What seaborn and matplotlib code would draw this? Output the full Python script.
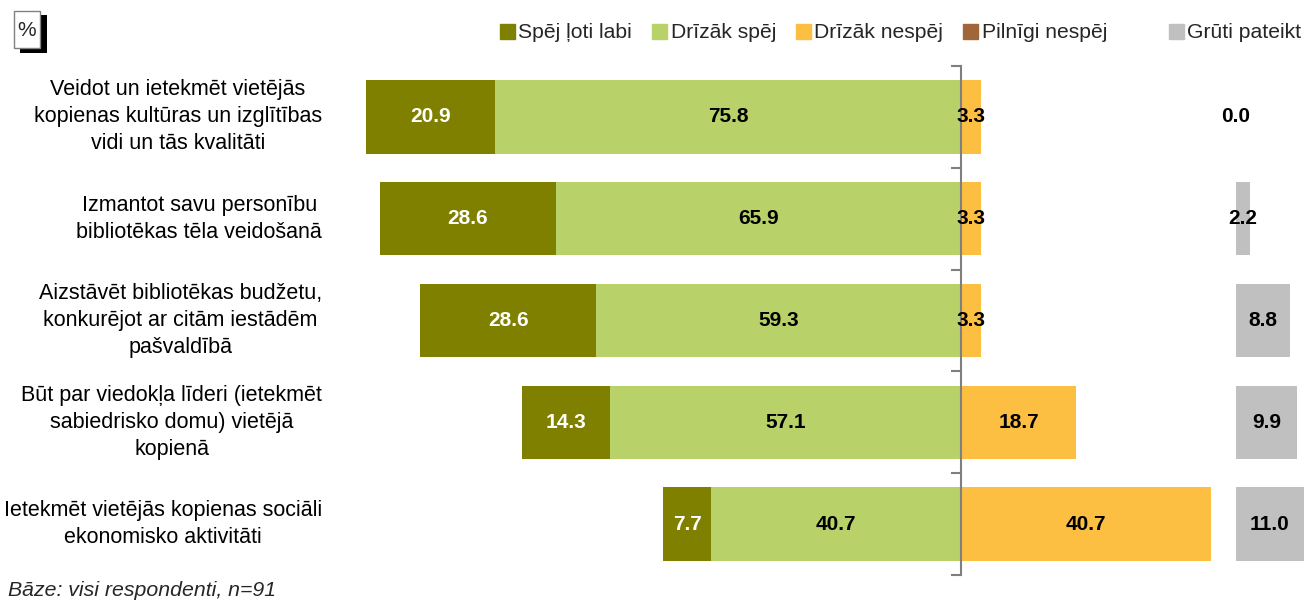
# Diverging stacked bars: library staff self-assessment (percent)
import numpy as np
import pandas as pd
import matplotlib.pyplot as plt
import matplotlib.patches as mpatches
import matplotlib.transforms as mtransforms
import seaborn as sns

# ------------------------------------------------------------
# DATA
# ------------------------------------------------------------
statements = [
    "Veidot un ietekmēt vietējās\nkopienas kultūras un izglītības\nvidi un tās kvalitāti",
    "Izmantot savu personību\nbibliotēkas tēla veidošanā",
    "Aizstāvēt bibliotēkas budžetu,\nkonkurējot ar citām iestādēm\npašvaldībā",
    "Būt par viedokļa līderi (ietekmēt\nsabiedrisko domu) vietējā\nkopienā",
    "Ietekmēt vietējās kopienas sociāli\nekonomisko aktivitāti",
]
very_well = [20.9, 28.6, 28.6, 14.3, 7.7]        # Spēj ļoti labi
rather_can = [75.8, 65.9, 59.3, 57.1, 40.7]      # Drīzāk spēj
rather_cannot = [3.3, 3.3, 3.3, 18.7, 40.7]      # Drīzāk nespēj
cannot_at_all = [0.0, 0.0, 0.0, 0.0, 0.0]        # Pilnīgi nespēj
hard_to_say = [0.0, 2.2, 8.8, 9.9, 11.0]         # Grūti pateikt

legend_labels = ["Spēj ļoti labi", "Drīzāk spēj", "Drīzāk nespēj", "Pilnīgi nespēj"]
legend_gray = "Grūti pateikt"
footnote = "Bāze: visi respondenti, n=91"

c_dark = "#808000"
c_light = "#B9D169"
c_orange = "#FDBF41"
c_brown = "#A0663A"
c_gray = "#C0C0C0"

df = pd.DataFrame({
    "statement": statements,
    "very_well": very_well,
    "rather_can": rather_can,
    "rather_cannot": rather_cannot,
    "cannot_at_all": cannot_at_all,
    "hard_to_say": hard_to_say,
})
df["neg_outer"] = -(df["very_well"] + df["rather_can"])
df["neg_inner"] = -df["rather_can"]
df["pos_outer"] = df["rather_cannot"] + df["cannot_at_all"]

# ------------------------------------------------------------
# FIGURE SETUP
# ------------------------------------------------------------
sns.set_theme(style="white")
plt.rcParams["font.family"] = ["Liberation Sans", "DejaVu Sans"]

W, H = 1313, 601
fig = plt.figure(figsize=(W / 100, H / 100), dpi=100)

scale = 6.15          # pixels per percent point
zero_px = 961
top_px, bot_px = 66, 575
xmin, xmax = -100, 42

def px_rect(left_px, right_px):
    return [left_px / W, 1 - bot_px / H, (right_px - left_px) / W, (bot_px - top_px) / H]

ax = fig.add_axes(px_rect(zero_px + xmin * scale, zero_px + xmax * scale))
gray_left = 1236
ax2 = fig.add_axes(px_rect(gray_left, gray_left + 12 * scale))

bar_w = 0.72
common = dict(data=df, y="statement", order=statements, orient="h",
              width=bar_w, saturation=1, linewidth=0)

sns.barplot(x="neg_outer", color=c_dark, ax=ax, **common)
sns.barplot(x="neg_inner", color=c_light, ax=ax, **common)
sns.barplot(x="pos_outer", color=c_brown, ax=ax, **common)
sns.barplot(x="rather_cannot", color=c_orange, ax=ax, **common)
sns.barplot(x="hard_to_say", color=c_gray, ax=ax2, **common)

# ------------------------------------------------------------
# VALUE LABELS
# ------------------------------------------------------------
lab_fs = 15
for i in range(len(statements)):
    ax.text(-(rather_can[i] + very_well[i] / 2), i, f"{very_well[i]:.1f}",
            ha="center", va="center", color="white", fontsize=lab_fs, fontweight="bold")
    ax.text(-rather_can[i] / 2, i, f"{rather_can[i]:.1f}",
            ha="center", va="center", color="black", fontsize=lab_fs, fontweight="bold")
    ax.text(rather_cannot[i] / 2, i, f"{rather_cannot[i]:.1f}",
            ha="center", va="center", color="black", fontsize=lab_fs, fontweight="bold")
    ax2.text(hard_to_say[i] / 2, i, f"{hard_to_say[i]:.1f}",
             ha="center", va="center", color="black", fontsize=lab_fs, fontweight="bold")

# ------------------------------------------------------------
# AXES STYLING
# ------------------------------------------------------------
for a in (ax, ax2):
    a.set_ylim(len(statements) - 0.5, -0.5)
    a.set_xlabel("")
    a.set_ylabel("")
    a.set_xticks([])
    for s in a.spines.values():
        s.set_visible(False)
    a.patch.set_alpha(0)

ax.set_xlim(xmin, xmax)
ax2.set_xlim(0, 12)
ax2.set_yticks([])

ax.spines["left"].set_visible(True)
ax.spines["left"].set_position(("data", 0))
ax.spines["left"].set_color("#7F7F7F")
ax.spines["left"].set_linewidth(1.5)
ax.set_yticks(np.arange(-0.5, len(statements), 1.0))
ax.set_yticklabels([])
ax.tick_params(axis="y", direction="out", length=7, width=1.5, color="#7F7F7F", left=True)

# category labels on the left
trans = mtransforms.blended_transform_factory(fig.transFigure, ax.transData)
for i, s in enumerate(statements):
    ax.text(322 / W, i, s, transform=trans, ha="right", va="center",
            multialignment="center", fontsize=15.5, linespacing=1.38, color="black")

# ------------------------------------------------------------
# LEGENDS, BOX AND FOOTNOTE
# ------------------------------------------------------------
handles = [mpatches.Patch(color=c) for c in (c_dark, c_light, c_orange, c_brown)]
leg_kw = dict(loc="center left", frameon=False, fontsize=15.2, handlelength=0.72,
              handleheight=0.72, handletextpad=0.15, borderpad=0, borderaxespad=0,
              columnspacing=0.95)
fig.legend(handles, legend_labels, ncol=4,
           bbox_to_anchor=(500 / W, 1 - 33 / H), **leg_kw)
fig.legend([mpatches.Patch(color=c_gray)], [legend_gray],
           bbox_to_anchor=(1169 / W, 1 - 33 / H), **leg_kw)

fig.patches.append(mpatches.Rectangle((20 / W, 1 - 53 / H), 27 / W, 38 / H,
                                      transform=fig.transFigure, facecolor="black",
                                      edgecolor="none"))
fig.patches.append(mpatches.Rectangle((14 / W, 1 - 48 / H), 26 / W, 37 / H,
                                      transform=fig.transFigure, facecolor="white",
                                      edgecolor="#808080", linewidth=1))
fig.text(27 / W, 1 - 30 / H, "%", ha="center", va="center", fontsize=15)

fig.text(8 / W, 1 - 591 / H, footnote, ha="left", va="center",
         fontsize=15.3, fontstyle="italic")

fig.savefig("out.png", dpi=100)
